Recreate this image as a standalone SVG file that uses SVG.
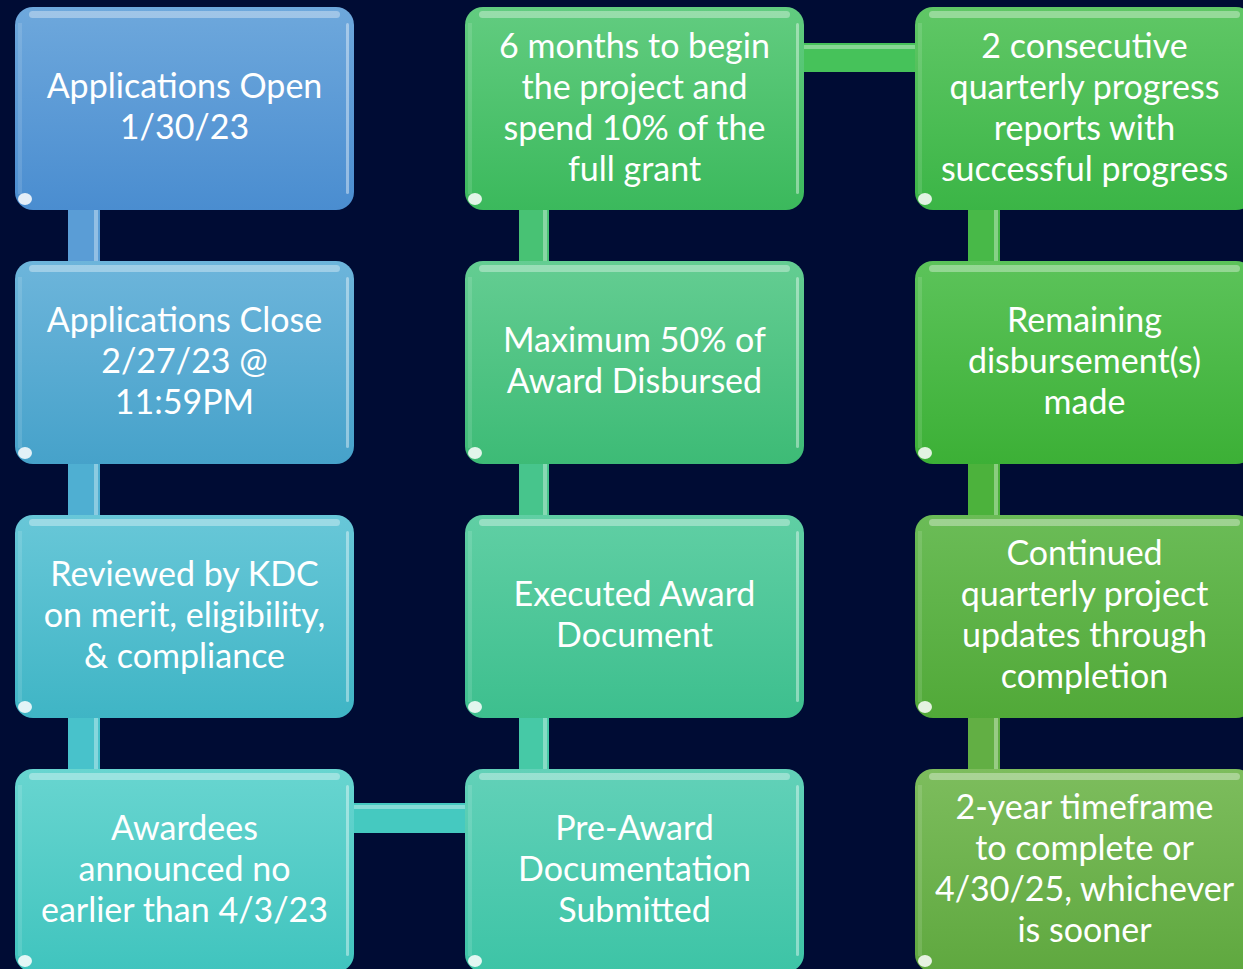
<svg xmlns="http://www.w3.org/2000/svg" width="1243" height="969" viewBox="0 0 1243 969">
<defs>
<linearGradient id="g11" x1="0" y1="0" x2="0" y2="1"><stop offset="0" stop-color="#6EA8DC"/><stop offset="1" stop-color="#4A8DD0"/></linearGradient>
<linearGradient id="g12" x1="0" y1="0" x2="0" y2="1"><stop offset="0" stop-color="#6DB5DB"/><stop offset="1" stop-color="#46A2CA"/></linearGradient>
<linearGradient id="g13" x1="0" y1="0" x2="0" y2="1"><stop offset="0" stop-color="#68C7D8"/><stop offset="1" stop-color="#3FB5C5"/></linearGradient>
<linearGradient id="g14" x1="0" y1="0" x2="0" y2="1"><stop offset="0" stop-color="#68D5D0"/><stop offset="1" stop-color="#40C4BE"/></linearGradient>
<linearGradient id="g21" x1="0" y1="0" x2="0" y2="1"><stop offset="0" stop-color="#62CC80"/><stop offset="1" stop-color="#3BB95C"/></linearGradient>
<linearGradient id="g22" x1="0" y1="0" x2="0" y2="1"><stop offset="0" stop-color="#64CD92"/><stop offset="1" stop-color="#3DBB76"/></linearGradient>
<linearGradient id="g23" x1="0" y1="0" x2="0" y2="1"><stop offset="0" stop-color="#60CFA4"/><stop offset="1" stop-color="#3DBF8E"/></linearGradient>
<linearGradient id="g24" x1="0" y1="0" x2="0" y2="1"><stop offset="0" stop-color="#62D1B8"/><stop offset="1" stop-color="#3DC4A6"/></linearGradient>
<linearGradient id="g31" x1="0" y1="0" x2="0" y2="1"><stop offset="0" stop-color="#60C766"/><stop offset="1" stop-color="#3BB546"/></linearGradient>
<linearGradient id="g32" x1="0" y1="0" x2="0" y2="1"><stop offset="0" stop-color="#5CC35A"/><stop offset="1" stop-color="#3CB036"/></linearGradient>
<linearGradient id="g33" x1="0" y1="0" x2="0" y2="1"><stop offset="0" stop-color="#6BBC57"/><stop offset="1" stop-color="#51A938"/></linearGradient>
<linearGradient id="g34" x1="0" y1="0" x2="0" y2="1"><stop offset="0" stop-color="#7DBD5D"/><stop offset="1" stop-color="#5FA83F"/></linearGradient>
</defs>
<style>
.bg{fill:#000C34}
.box{stroke:none}
.topg{fill:#FFFFFF;opacity:0.35}
.rgt{fill:#FFFFFF;opacity:0.4}
.lft{fill:#FFFFFF;opacity:0.12}
.blob{fill:#FFFFFF;opacity:0.85}
.stripe{fill:#FFFFFF;opacity:0.35}
.lbl{font-family:Lato,"Liberation Sans",sans-serif;font-size:34px;fill:#FFFFFF;text-anchor:middle}
</style>
<rect class="bg" x="0" y="0" width="1243" height="969"/>

<g id="connectors">
  <rect x="68" y="205" width="32" height="62" fill="#5A9DD6"/><rect class="stripe" x="94" y="205" width="4" height="62"/>
  <rect x="68" y="459" width="32" height="62" fill="#4FAFD2"/><rect class="stripe" x="94" y="459" width="4" height="62"/>
  <rect x="68" y="713" width="32" height="62" fill="#48C2CB"/><rect class="stripe" x="94" y="713" width="4" height="62"/>
  <rect x="519" y="205" width="30" height="62" fill="#48C274"/><rect class="stripe" x="543" y="205" width="4" height="62"/>
  <rect x="519" y="459" width="30" height="62" fill="#47C58C"/><rect class="stripe" x="543" y="459" width="4" height="62"/>
  <rect x="519" y="713" width="30" height="62" fill="#46C9A6"/><rect class="stripe" x="543" y="713" width="4" height="62"/>
  <rect x="968" y="205" width="32" height="62" fill="#48B948"/><rect class="stripe" x="994" y="205" width="4" height="62"/>
  <rect x="968" y="459" width="32" height="62" fill="#4CB23C"/><rect class="stripe" x="994" y="459" width="4" height="62"/>
  <rect x="968" y="713" width="32" height="62" fill="#62AF44"/><rect class="stripe" x="994" y="713" width="4" height="62"/>
  <rect x="800" y="43" width="120" height="29" fill="#46C25A"/><rect class="stripe" x="800" y="45" width="120" height="4"/>
  <rect x="350" y="803" width="120" height="30" fill="#45C9C0"/><rect class="stripe" x="350" y="805" width="120" height="4"/>
</g>

<g id="n11">
  <rect class="box" x="15" y="7" width="339" height="203" rx="18" fill="url(#g11)"/>
  <rect class="topg" x="29" y="11" width="311" height="7" rx="3.5"/>
  <rect class="rgt" x="346" y="23" width="3" height="171" rx="1.5"/>
  <rect class="lft" x="18" y="23" width="4" height="171"/>
  <ellipse class="blob" cx="25" cy="199" rx="7" ry="6"/>
  <text class="lbl"><tspan x="184.5" y="98">Applications Open</tspan><tspan x="184.5" y="139">1/30/23</tspan></text>
</g>
<g id="n12">
  <rect class="box" x="15" y="261" width="339" height="203" rx="18" fill="url(#g12)"/>
  <rect class="topg" x="29" y="265" width="311" height="7" rx="3.5"/>
  <rect class="rgt" x="346" y="277" width="3" height="171" rx="1.5"/>
  <rect class="lft" x="18" y="277" width="4" height="171"/>
  <ellipse class="blob" cx="25" cy="453" rx="7" ry="6"/>
  <text class="lbl"><tspan x="184.5" y="332">Applications Close</tspan><tspan x="184.5" y="373">2/27/23 @</tspan><tspan x="184.5" y="414">11:59PM</tspan></text>
</g>
<g id="n13">
  <rect class="box" x="15" y="515" width="339" height="203" rx="18" fill="url(#g13)"/>
  <rect class="topg" x="29" y="519" width="311" height="7" rx="3.5"/>
  <rect class="rgt" x="346" y="531" width="3" height="171" rx="1.5"/>
  <rect class="lft" x="18" y="531" width="4" height="171"/>
  <ellipse class="blob" cx="25" cy="707" rx="7" ry="6"/>
  <text class="lbl"><tspan x="184.5" y="586">Reviewed by KDC</tspan><tspan x="184.5" y="627">on merit, eligibility,</tspan><tspan x="184.5" y="668">&amp; compliance</tspan></text>
</g>
<g id="n14">
  <rect class="box" x="15" y="769" width="339" height="203" rx="18" fill="url(#g14)"/>
  <rect class="topg" x="29" y="773" width="311" height="7" rx="3.5"/>
  <rect class="rgt" x="346" y="785" width="3" height="171" rx="1.5"/>
  <rect class="lft" x="18" y="785" width="4" height="171"/>
  <ellipse class="blob" cx="25" cy="961" rx="7" ry="6"/>
  <text class="lbl"><tspan x="184.5" y="840">Awardees</tspan><tspan x="184.5" y="881">announced no</tspan><tspan x="184.5" y="922">earlier than 4/3/23</tspan></text>
</g>

<g id="n21">
  <rect class="box" x="465" y="7" width="339" height="203" rx="18" fill="url(#g21)"/>
  <rect class="topg" x="479" y="11" width="311" height="7" rx="3.5"/>
  <rect class="rgt" x="796" y="23" width="3" height="171" rx="1.5"/>
  <rect class="lft" x="468" y="23" width="4" height="171"/>
  <ellipse class="blob" cx="475" cy="199" rx="7" ry="6"/>
  <text class="lbl"><tspan x="634.5" y="58">6 months to begin</tspan><tspan x="634.5" y="99">the project and</tspan><tspan x="634.5" y="140">spend 10% of the</tspan><tspan x="634.5" y="181">full grant</tspan></text>
</g>
<g id="n22">
  <rect class="box" x="465" y="261" width="339" height="203" rx="18" fill="url(#g22)"/>
  <rect class="topg" x="479" y="265" width="311" height="7" rx="3.5"/>
  <rect class="rgt" x="796" y="277" width="3" height="171" rx="1.5"/>
  <rect class="lft" x="468" y="277" width="4" height="171"/>
  <ellipse class="blob" cx="475" cy="453" rx="7" ry="6"/>
  <text class="lbl"><tspan x="634.5" y="352">Maximum 50% of</tspan><tspan x="634.5" y="393">Award Disbursed</tspan></text>
</g>
<g id="n23">
  <rect class="box" x="465" y="515" width="339" height="203" rx="18" fill="url(#g23)"/>
  <rect class="topg" x="479" y="519" width="311" height="7" rx="3.5"/>
  <rect class="rgt" x="796" y="531" width="3" height="171" rx="1.5"/>
  <rect class="lft" x="468" y="531" width="4" height="171"/>
  <ellipse class="blob" cx="475" cy="707" rx="7" ry="6"/>
  <text class="lbl"><tspan x="634.5" y="606">Executed Award</tspan><tspan x="634.5" y="647">Document</tspan></text>
</g>
<g id="n24">
  <rect class="box" x="465" y="769" width="339" height="203" rx="18" fill="url(#g24)"/>
  <rect class="topg" x="479" y="773" width="311" height="7" rx="3.5"/>
  <rect class="rgt" x="796" y="785" width="3" height="171" rx="1.5"/>
  <rect class="lft" x="468" y="785" width="4" height="171"/>
  <ellipse class="blob" cx="475" cy="961" rx="7" ry="6"/>
  <text class="lbl"><tspan x="634.5" y="840">Pre-Award</tspan><tspan x="634.5" y="881">Documentation</tspan><tspan x="634.5" y="922">Submitted</tspan></text>
</g>

<g id="n31">
  <rect class="box" x="915" y="7" width="339" height="203" rx="18" fill="url(#g31)"/>
  <rect class="topg" x="929" y="11" width="311" height="7" rx="3.5"/>
  <rect class="lft" x="918" y="23" width="4" height="171"/>
  <ellipse class="blob" cx="925" cy="199" rx="7" ry="6"/>
  <text class="lbl"><tspan x="1084.5" y="58">2 consecutive</tspan><tspan x="1084.5" y="99">quarterly progress</tspan><tspan x="1084.5" y="140">reports with</tspan><tspan x="1084.5" y="181">successful progress</tspan></text>
</g>
<g id="n32">
  <rect class="box" x="915" y="261" width="339" height="203" rx="18" fill="url(#g32)"/>
  <rect class="topg" x="929" y="265" width="311" height="7" rx="3.5"/>
  <rect class="lft" x="918" y="277" width="4" height="171"/>
  <ellipse class="blob" cx="925" cy="453" rx="7" ry="6"/>
  <text class="lbl"><tspan x="1084.5" y="332">Remaining</tspan><tspan x="1084.5" y="373">disbursement(s)</tspan><tspan x="1084.5" y="414">made</tspan></text>
</g>
<g id="n33">
  <rect class="box" x="915" y="515" width="339" height="203" rx="18" fill="url(#g33)"/>
  <rect class="topg" x="929" y="519" width="311" height="7" rx="3.5"/>
  <rect class="lft" x="918" y="531" width="4" height="171"/>
  <ellipse class="blob" cx="925" cy="707" rx="7" ry="6"/>
  <text class="lbl"><tspan x="1084.5" y="565">Continued</tspan><tspan x="1084.5" y="606">quarterly project</tspan><tspan x="1084.5" y="647">updates through</tspan><tspan x="1084.5" y="688">completion</tspan></text>
</g>
<g id="n34">
  <rect class="box" x="915" y="769" width="339" height="203" rx="18" fill="url(#g34)"/>
  <rect class="topg" x="929" y="773" width="311" height="7" rx="3.5"/>
  <rect class="lft" x="918" y="785" width="4" height="171"/>
  <ellipse class="blob" cx="925" cy="961" rx="7" ry="6"/>
  <text class="lbl"><tspan x="1084.5" y="819">2-year timeframe</tspan><tspan x="1084.5" y="860">to complete or</tspan><tspan x="1084.5" y="901">4/30/25, whichever</tspan><tspan x="1084.5" y="942">is sooner</tspan></text>
</g>
</svg>
